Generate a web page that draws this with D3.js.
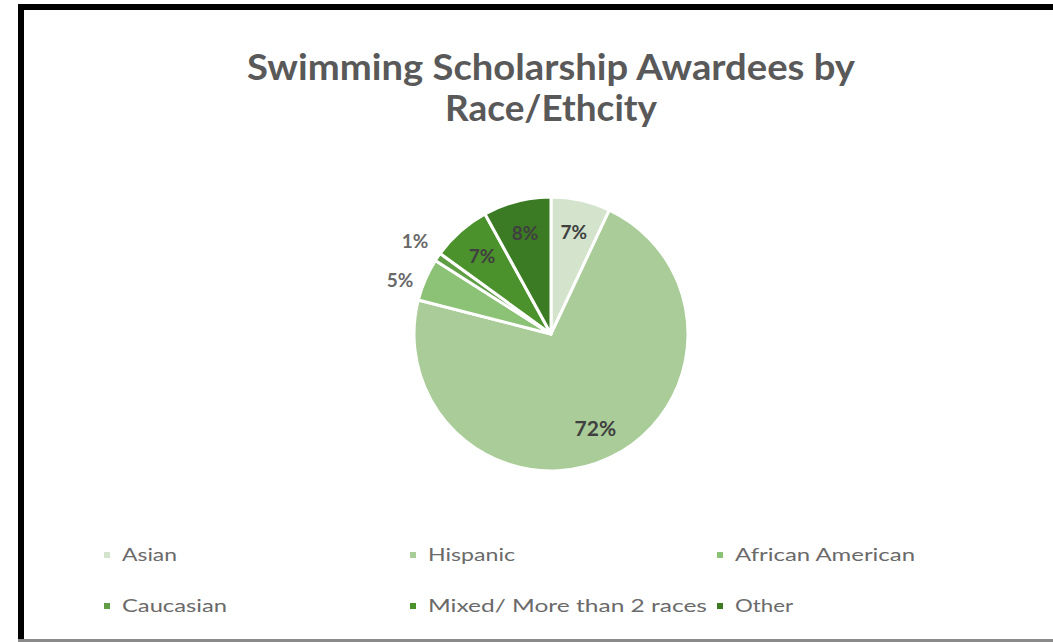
<!DOCTYPE html>
<html><head><meta charset="utf-8">
<script src="https://cdn.jsdelivr.net/npm/d3@7"></script>
<style>html,body{margin:0;padding:0;background:#fff;overflow:hidden}</style>
</head><body>
<svg id="c" width="1053" height="642"></svg>
<script>
const categories = ["Asian","Hispanic","African American","Caucasian","Mixed/ More than 2 races","Other"];
const values = [7,72,5,1,7,8];
const colors = ["#d4e3cc","#a9cc98","#8cc276","#5f9e45","#4b922c","#3b7b24"];
const titleLines = ["Swimming Scholarship Awardees by","Race/Ethcity"];

const svg = d3.select("#c");
const W = 1053, H = 642;
svg.append("rect").attr("width",W).attr("height",H).attr("fill","#fff");
// frame
svg.append("rect").attr("x",18).attr("y",4).attr("width",W-18).attr("height",6).attr("fill","#000");
svg.append("rect").attr("x",18).attr("y",4).attr("width",6).attr("height",H-4).attr("fill","#000");
svg.append("rect").attr("x",18).attr("y",639).attr("width",W-18).attr("height",3).attr("fill","#8a8a8a");

// title
const titleY = [80,121], titleW = [608,212];
titleLines.forEach((t,i)=>{
  svg.append("text").attr("x",551).attr("y",titleY[i]).attr("text-anchor","middle")
    .attr("font-family","Lato, 'Open Sans', sans-serif").attr("font-weight","bold")
    .attr("font-size",36).attr("fill","#595959")
    .attr("textLength",titleW[i]).attr("lengthAdjust","spacingAndGlyphs").text(t);
});

// pie
const cx = 551, cy = 334, R = 137;
const pie = d3.pie().sort(null).value(d=>d)(values);
const arc = d3.arc().innerRadius(0).outerRadius(R);
const g = svg.append("g").attr("transform",`translate(${cx},${cy})`);
g.selectAll("path").data(pie).join("path").attr("d",arc)
  .attr("fill",(d,i)=>colors[i]).attr("stroke","#fff").attr("stroke-width",3).attr("stroke-linejoin","round");

const inArc = d3.arc().innerRadius(R*0.76).outerRadius(R*0.76);
const outArc = d3.arc().innerRadius(R*1.2).outerRadius(R*1.2);
const labels = pie.map(d=>{const c=(d.data<6?outArc:inArc).centroid(d);return {d, x:c[0], y:c[1], out:d.data<6};});
// resolve overlap of outside labels (push lower one down)
const outs = labels.filter(l=>l.out).sort((a,b)=>a.y-b.y);
for(let i=1;i<outs.length;i++){ if(outs[i].y-outs[i-1].y<39) outs[i].y = outs[i-1].y+39; }
g.selectAll("text.lbl").data(labels).join("text").attr("class","lbl")
  .attr("transform",l=>`translate(${l.x},${l.y})`)
  .attr("text-anchor","middle").attr("dy","0.35em")
  .attr("font-family","Lato, 'Open Sans', sans-serif").attr("font-weight","bold")
  .attr("font-size",l=>l.d.data>50?21:19)
  .attr("fill",l=>l.out?"#6a6a6a":"#404040")
  .text(l=>l.d.data+"%");

// legend
const colX = [107,413,720], rowY = [555,606];
const legW = [55,87,180,105,279,58];
categories.forEach((c,i)=>{
  const x = colX[i%3], y = rowY[Math.floor(i/3)];
  svg.append("rect").attr("x",x-3).attr("y",y-3).attr("width",6).attr("height",6).attr("fill",colors[i]);
  svg.append("text").attr("x",x+15).attr("y",y+6)
    .attr("font-family","Lato, 'Open Sans', sans-serif").attr("font-size",17).attr("fill","#6a6a6a")
    .attr("textLength",legW[i]).attr("lengthAdjust","spacingAndGlyphs").text(c);
});
</script>
</body></html>
